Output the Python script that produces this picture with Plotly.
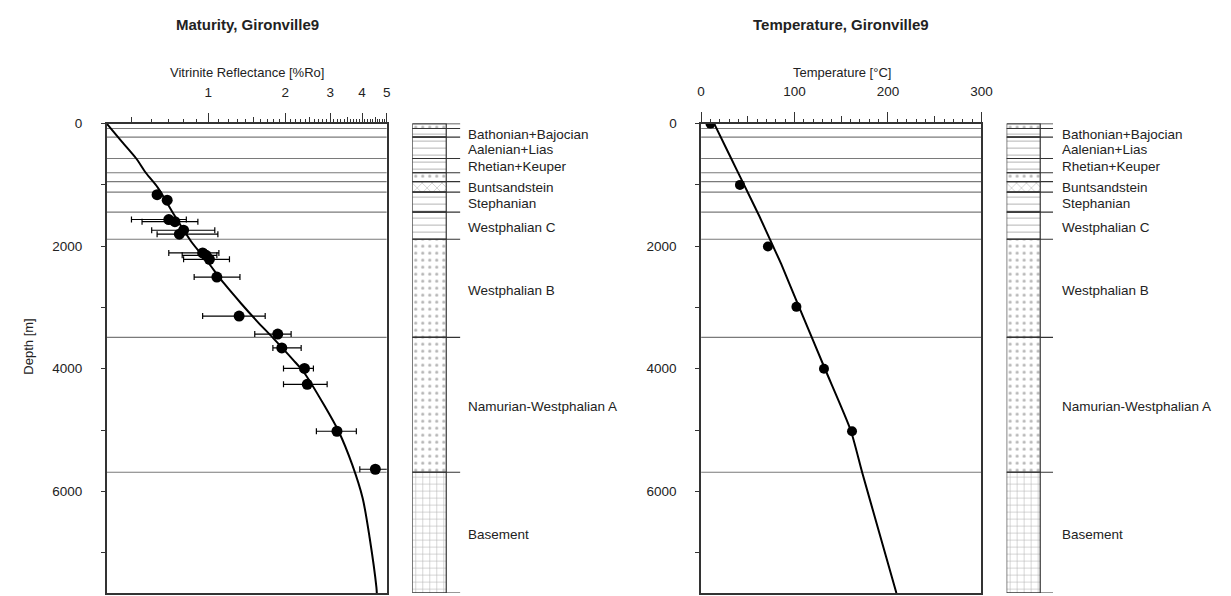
import numpy as np
import plotly.graph_objects as go

W, H = 1231, 596

# stratigraphy (top depths of layers, m) and plot bottom
layer_tops = [0, 80, 221, 569, 802, 947, 1119, 1446, 1887, 3487, 5689]
plot_bottom = 7660
layer_pattern = ['.', '-', '-', '-', '.', 'x', '-', '-', '.', '.', '+']

strat_names = ["Bathonian+Bajocian", "Aalenian+Lias", "Rhetian+Keuper", "Buntsandstein",
               "Stephanian", "Westphalian C", "Westphalian B", "Namurian-Westphalian A", "Basement"]
strat_label_depth = [177, 419, 705, 1044, 1306, 1698, 2726, 4613, 6710]

# vitrinite reflectance measurements
vr_depth = [1160, 1250, 1565, 1600, 1740, 1805, 2110, 2150, 2215, 2505, 3140, 3435, 3660, 3995, 4255, 5020, 5640]
vr_ro = [0.63, 0.69, 0.70, 0.74, 0.80, 0.77, 0.95, 0.98, 1.01, 1.08, 1.32, 1.87, 1.94, 2.38, 2.44, 3.19, 4.51]
vr_min = [0.63, 0.69, 0.50, 0.55, 0.60, 0.63, 0.70, 0.79, 0.80, 0.88, 0.95, 1.52, 1.79, 1.97, 1.97, 2.65, 3.92]
vr_max = [0.63, 0.69, 0.82, 0.91, 1.06, 1.09, 1.10, 1.08, 1.21, 1.33, 1.67, 2.11, 2.31, 2.58, 2.92, 3.80, 5.10]

# modelled maturity
ro_model_depth = [0, 274, 565, 806, 1048, 1484, 1919, 2242, 2613, 2935, 3226, 3500, 3855, 4065,
                  4597, 5032, 5565, 6113, 6758, 7565, 7660]
ro_model = [0.40, 0.454, 0.521, 0.570, 0.635, 0.733, 0.855, 0.988, 1.155, 1.344, 1.553, 1.795, 2.148, 2.374,
            2.844, 3.248, 3.661, 4.023, 4.284, 4.553, 4.57]

# temperature measurements and model
t_depth = [0, 1000, 2005, 2990, 4000, 5020]
t_obs = [10, 41.6, 71.5, 102, 131.5, 161.5]
t_model_depth = [0, 500, 1000, 1500, 2000, 2290, 3000, 4000, 5000, 5689, 6500, 7660]
t_model = [14, 30, 46, 62, 77, 85.7, 105, 132.5, 160, 172.3, 187.4, 209]

ro_ticks = [1, 2, 3, 4, 5]
ro_mid_ticks = [0.5, 1.5, 2.5, 3.5, 4.5]
temp_ticks = [0, 100, 200, 300]
temp_mid_ticks = [50, 150, 250]
depth_ticks = [0, 2000, 4000, 6000]
depth_minor = [1000, 3000, 5000, 7000]

ro_range = [0.4, 5]
t_range = [0, 300]

FONT = "Liberation Sans, Arial, sans-serif"
TXT = "#222"
FRAME = "#333"

def px(x):
    return x / W

def py(y):
    return 1 - y / H

ro_minor = [round(v, 1) for v in np.arange(0.6, 5.0, 0.1) if round(v * 10) % 5 != 0]
t_minor = [v for v in range(10, 300, 10) if v % 50 != 0]

fig = go.Figure()

def hlines(x0, x1, depths):
    xs, ys = [], []
    for d in depths:
        xs += [x0, x1, None]
        ys += [d, d, None]
    return xs, ys

col_max = (462 - 413.3) / (447.7 - 413.3)
col_max2 = (1062 - 1015) / (1049 - 1015)

for xa, ya, xr in [("x", "y", ro_range), ("x2", "y2", t_range)]:
    # boundary lines across the plot
    xs, ys = hlines(xr[0], xr[1], layer_tops[1:])
    fig.add_trace(go.Scatter(x=xs, y=ys, mode="lines", xaxis=xa, yaxis=ya,
                             line=dict(color="#7a7a7a", width=1.2), hoverinfo="skip", showlegend=False))

# stratigraphic columns
bottoms = layer_tops[1:] + [plot_bottom]
mids = [(a + b) / 2 for a, b in zip(layer_tops, bottoms)]
thick = [b - a for a, b in zip(layer_tops, bottoms)]
for xa, ya, cm in [("x3", "y", col_max), ("x4", "y2", col_max2)]:
    fig.add_trace(go.Bar(y=mids, x=[1] * len(mids), width=thick, base=0, orientation="h",
                         xaxis=xa, yaxis=ya, showlegend=False, hoverinfo="skip",
                         marker=dict(color="white", line=dict(color=FRAME, width=1.2),
                                     pattern=dict(shape=layer_pattern, fgcolor="#b4b4b4", bgcolor="white",
                                                  size=7, solidity=0.15, fillmode="replace"))))
    xs, ys = hlines(0, cm, layer_tops + [plot_bottom])
    fig.add_trace(go.Scatter(x=xs, y=ys, mode="lines", xaxis=xa, yaxis=ya,
                             line=dict(color=FRAME, width=1.2), hoverinfo="skip", showlegend=False))

# maturity
fig.add_trace(go.Scatter(x=ro_model, y=ro_model_depth, mode="lines",
                         line=dict(color="black", width=2, shape="spline", smoothing=0.8),
                         xaxis="x", yaxis="y", showlegend=False))
err_plus = [hi - v for hi, v in zip(vr_max, vr_ro)]
err_minus = [v - lo for lo, v in zip(vr_min, vr_ro)]
fig.add_trace(go.Scatter(x=vr_ro, y=vr_depth, mode="markers", xaxis="x", yaxis="y", showlegend=False,
                         marker=dict(color="black", size=11),
                         error_x=dict(type="data", symmetric=False, array=err_plus, arrayminus=err_minus,
                                      color="black", thickness=1.2, width=3)))

# temperature
fig.add_trace(go.Scatter(x=t_model, y=t_model_depth, mode="lines",
                         line=dict(color="black", width=2, shape="spline", smoothing=0.6),
                         xaxis="x2", yaxis="y2", showlegend=False))
fig.add_trace(go.Scatter(x=t_obs, y=t_depth, mode="markers", xaxis="x2", yaxis="y2", showlegend=False,
                         marker=dict(color="black", size=10)))

# empty traces for medium tick overlays
fig.add_trace(go.Scatter(x=[], y=[], xaxis="x5", yaxis="y", showlegend=False))
fig.add_trace(go.Scatter(x=[], y=[], xaxis="x6", yaxis="y2", showlegend=False))

ydom = [py(593), py(118)]
tickfont = dict(family=FONT, size=13.5, color=TXT)

yax = dict(domain=ydom, range=[plot_bottom, 0], tickvals=depth_ticks, ticks="outside", ticklen=4,
           tickcolor=FRAME, showline=True, linecolor=FRAME, linewidth=1.5, mirror=True,
           showgrid=False, zeroline=False, tickfont=tickfont, ticklabelstandoff=16,
           minor=dict(tickvals=depth_minor, ticks="outside", ticklen=4, tickcolor=FRAME))

xax_common = dict(side="top", ticks="outside", tickcolor=FRAME, showline=True, linecolor=FRAME,
                  linewidth=1.5, mirror=True, showgrid=False, zeroline=False, tickfont=tickfont,
                  ticklabelstandoff=10)

fig.update_layout(
    width=W, height=H, margin=dict(l=0, r=0, t=0, b=0),
    plot_bgcolor="white", paper_bgcolor="white", font=dict(family=FONT, color=TXT),
    barmode="overlay",
    xaxis=dict(domain=[px(104), px(387.5)], type="log", range=[np.log10(ro_range[0]), np.log10(ro_range[1])],
               tickvals=ro_ticks, ticklen=9, anchor="y",
               minor=dict(tickvals=ro_minor, ticks="outside", ticklen=3, tickcolor=FRAME), **xax_common),
    xaxis5=dict(overlaying="x", anchor="y", side="top", type="log",
                range=[np.log10(ro_range[0]), np.log10(ro_range[1])], tickvals=ro_mid_ticks,
                ticks="outside", ticklen=6, tickcolor=FRAME, showticklabels=False, showline=False,
                showgrid=False, zeroline=False),
    xaxis2=dict(domain=[px(705.7), px(989.5)], range=t_range, tickvals=temp_ticks, ticklen=10, anchor="y2",
                minor=dict(tickvals=t_minor, ticks="outside", ticklen=3, tickcolor=FRAME), **xax_common),
    xaxis6=dict(overlaying="x2", anchor="y2", side="top", range=t_range, tickvals=temp_mid_ticks,
                ticks="outside", ticklen=7, tickcolor=FRAME, showticklabels=False, showline=False,
                showgrid=False, zeroline=False),
    xaxis3=dict(domain=[px(413.3), px(462)], range=[0, col_max], visible=False, anchor="y"),
    xaxis4=dict(domain=[px(1015), px(1062)], range=[0, col_max2], visible=False, anchor="y2"),
    yaxis=dict(anchor="x", **yax),
    yaxis2=dict(anchor="x2", **yax),
)

ann = [
    dict(text="<b>Maturity, Gironville9</b>", x=px(246), y=py(17.5), size=15),
    dict(text="<b>Temperature, Gironville9</b>", x=px(847), y=py(17.5), size=15),
    dict(text="Vitrinite Reflectance [%Ro]", x=px(245.7), y=py(66.5), size=13),
    dict(text="Temperature [°C]", x=px(848), y=py(66), size=13),
]
for a in ann:
    fig.add_annotation(text=a["text"], x=a["x"], y=a["y"], xref="paper", yref="paper", showarrow=False,
                       xanchor="center", yanchor="middle", font=dict(family=FONT, size=a["size"], color=TXT))
fig.add_annotation(text="Depth [m]", x=px(25), y=py(344), xref="paper", yref="paper", showarrow=False,
                   textangle=-90, xanchor="center", yanchor="middle", font=dict(family=FONT, size=13, color=TXT))

for xpos, yref in [(468, "y"), (1069, "y2")]:
    for name, d in zip(strat_names, strat_label_depth):
        fig.add_annotation(text=name, x=px(xpos), y=d, xref="paper", yref=yref, showarrow=False,
                           xanchor="left", yanchor="middle", font=dict(family=FONT, size=13.5, color=TXT))

# page body has a default margin; remove it so the figure sits at the window origin
fig.write_html("out.html", config={"displayModeBar": False},
               post_script="document.body.style.margin='0px';")
